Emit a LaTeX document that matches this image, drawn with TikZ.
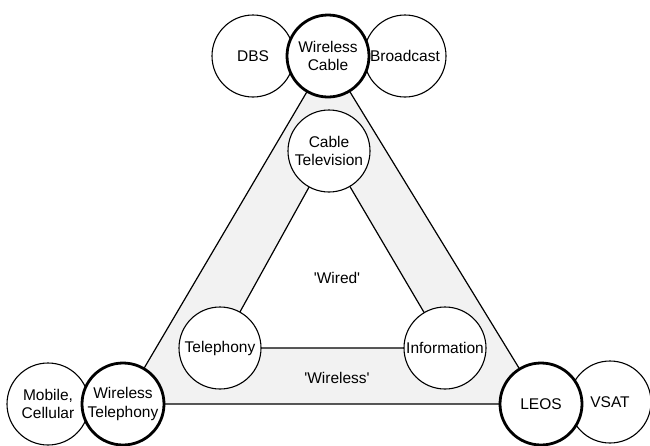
\documentclass[tikz,border=0pt]{standalone}
\usepackage{fontspec}
\setmainfont{Liberation Sans}
\usetikzlibrary{backgrounds}
\definecolor{band}{RGB}{242,242,242}
\tikzset{
  circ/.style={circle, draw=black, fill=white, minimum size=82pt, inner sep=0pt,
    line width=1.1pt, align=center, font=\fontsize{15.5}{18.5}\selectfont},
  thickcirc/.style={circ, line width=2.8pt},
  edgeline/.style={line width=1.2pt, draw=black},
  lbl/.style={font=\fontsize{15.5}{18.5}\selectfont, inner sep=0pt}
}
\begin{document}
\begin{tikzpicture}[x=1pt,y=-1pt]
\useasboundingbox (0,0) rectangle (650,445);
% top group
\node[circ] (dbs) at (253,56) {DBS};
\node[circ] (bc) at (405,56) {Broadcast};
\node[thickcirc] (wc) at (328,56) {Wireless\\Cable};
% bottom left group
\node[circ] (mob) at (48,404) {Mobile,\\Cellular};
\node[thickcirc] (wt) at (123,404) {Wireless\\Telephony};
% bottom right group
\node[circ] (vsat) at (610,402) {VSAT};
\node[thickcirc] (leos) at (541,404) {LEOS};
% inner triangle
\node[circ] (ct) at (329,151) {Cable\\Television};
\node[circ] (tel) at (220,348) {Telephony};
\node[circ] (info) at (445,348) {Information};
% labels
\node[lbl] (wired) at (337,278) {\textquotesingle Wired\textquotesingle};
\node[lbl] (wless) at (337,378) {\textquotesingle Wireless\textquotesingle};
\begin{scope}[on background layer]
  \filldraw[edgeline, fill=band] (wc.center) -- (wt.center) -- (leos.center) -- cycle;
  \filldraw[edgeline, fill=white] (ct.center) -- (tel.center) -- (info.center) -- cycle;
\end{scope}
\end{tikzpicture}
\end{document}
